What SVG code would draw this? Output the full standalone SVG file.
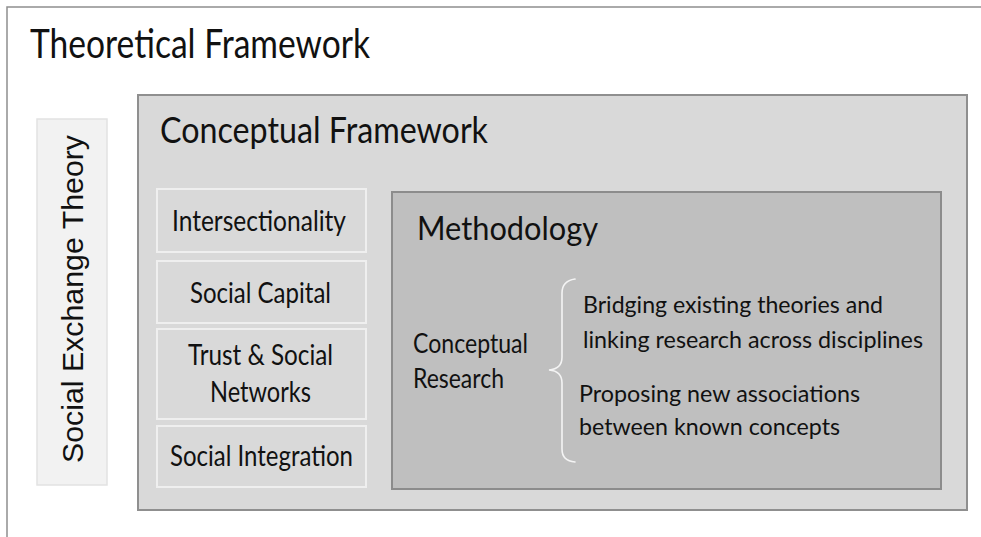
<svg xmlns="http://www.w3.org/2000/svg" width="981" height="537" viewBox="0 0 981 537">
  <style>
    .t { font-family: Lato, "Open Sans", "Liberation Sans", sans-serif; fill: #111111; }
    .frame { fill: #ffffff; stroke: #8f8f8f; stroke-width: 1.5; }
    .theory { fill: #f2f2f2; stroke: #e2e2e2; stroke-width: 1.5; }
    .concept { fill: #d9d9d9; stroke: #8f8f8f; stroke-width: 2; }
    .item { fill: #d9d9d9; stroke: #efefef; stroke-width: 2; }
    .method { fill: #bfbfbf; stroke: #8c8c8c; stroke-width: 2; }
    .brace { fill: none; stroke: #f4f4f4; stroke-width: 1.6; stroke-linecap: round; }
  </style>

  <!-- outer theoretical framework panel -->
  <g id="theoretical-framework">
    <rect class="frame" x="7" y="7" width="990" height="545"/>
    <text class="t" x="30" y="58" font-size="40" textLength="340" lengthAdjust="spacingAndGlyphs">Theoretical Framework</text>
  </g>

  <!-- vertical theory label -->
  <g id="social-exchange-theory">
    <rect class="theory" x="37" y="119" width="70" height="366"/>
    <text x="0" y="0" transform="translate(83,463) rotate(-90)" font-family="'Liberation Sans', Arial, sans-serif" font-size="30" fill="#111111" textLength="328" lengthAdjust="spacingAndGlyphs">Social Exchange Theory</text>
  </g>

  <!-- conceptual framework panel -->
  <g id="conceptual-framework">
    <rect class="concept" x="138" y="95" width="829" height="415"/>
    <text class="t" x="160" y="143" font-size="36" textLength="328" lengthAdjust="spacingAndGlyphs">Conceptual Framework</text>
  </g>

  <g id="intersectionality">
    <rect class="item" x="157" y="189" width="209" height="63"/>
    <text class="t" x="172" y="231" font-size="28" textLength="174" lengthAdjust="spacingAndGlyphs">Intersectionality</text>
  </g>

  <g id="social-capital">
    <rect class="item" x="157" y="261" width="209" height="62"/>
    <text class="t" x="190" y="303" font-size="28" textLength="141" lengthAdjust="spacingAndGlyphs">Social Capital</text>
  </g>

  <g id="trust-social-networks">
    <rect class="item" x="157" y="329" width="209" height="90"/>
    <text class="t" x="188" y="365" font-size="28" textLength="145" lengthAdjust="spacingAndGlyphs">Trust &amp; Social</text>
    <text class="t" x="210" y="402" font-size="28" textLength="101" lengthAdjust="spacingAndGlyphs">Networks</text>
  </g>

  <g id="social-integration">
    <rect class="item" x="157" y="426" width="209" height="61"/>
    <text class="t" x="170" y="466" font-size="28" textLength="183" lengthAdjust="spacingAndGlyphs">Social Integration</text>
  </g>

  <!-- methodology panel -->
  <g id="methodology">
    <rect class="method" x="392" y="192" width="549" height="297"/>
    <text class="t" x="417" y="240" font-size="33" textLength="181" lengthAdjust="spacingAndGlyphs">Methodology</text>
  </g>

  <g id="conceptual-research">
    <text class="t" x="413" y="353" font-size="27" textLength="115" lengthAdjust="spacingAndGlyphs">Conceptual</text>
    <text class="t" x="413" y="388" font-size="27" textLength="91" lengthAdjust="spacingAndGlyphs">Research</text>
  </g>

  <g id="bridging-theories">
    <text class="t" x="583" y="313" font-size="24" textLength="300" lengthAdjust="spacingAndGlyphs">Bridging existing theories and</text>
    <text class="t" x="583" y="348" font-size="24" textLength="340" lengthAdjust="spacingAndGlyphs">linking research across disciplines</text>
  </g>

  <g id="new-associations">
    <text class="t" x="579" y="402" font-size="24" textLength="281" lengthAdjust="spacingAndGlyphs">Proposing new associations</text>
    <text class="t" x="579" y="435" font-size="24" textLength="261" lengthAdjust="spacingAndGlyphs">between known concepts</text>
  </g>

  <!-- curly brace grouping the two research approaches -->
  <g id="connectors">
    <path class="brace" d="M575,279 Q562,281 562,293 L562,357 Q562,369 549,370 Q562,371 562,383 L562,449 Q562,461 575,462"/>
  </g>
</svg>
